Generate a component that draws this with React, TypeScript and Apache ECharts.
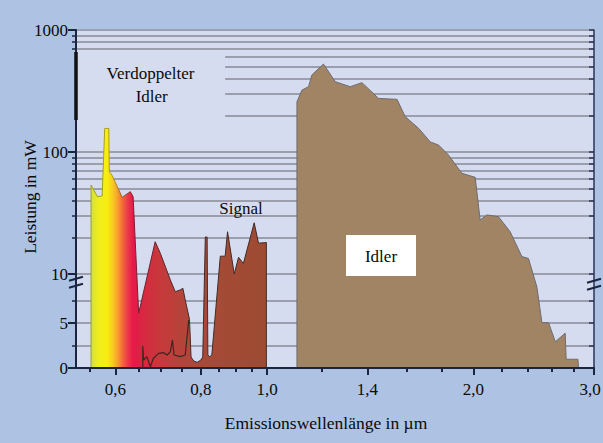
import React, { useEffect, useRef } from 'react';
import * as echarts from 'echarts';

// Wavelength in µm, power in mW
const signalLambda = [0.553, 0.553, 0.565, 0.574, 0.579, 0.587, 0.588, 0.593, 0.614, 0.631, 0.637, 0.649, 0.686, 0.698, 0.722, 0.734, 0.746, 0.753, 0.759, 0.770, 0.774, 0.781, 0.790, 0.800, 0.805, 0.812, 0.817, 0.819, 0.824, 0.830, 0.854, 0.868, 0.875, 0.895, 0.908, 0.923, 0.957, 0.971, 0.997, 0.997];
const signalPower = [0, 53.6, 43.0, 43.6, 156, 156, 69.0, 64.8, 42.5, 47.3, 43.0, 6.08, 18.4, 14.8, 9.54, 8.48, 8.67, 8.86, 7.56, 5.41, 1.22, 0.78, 0.63, 0.89, 1.22, 20.1, 20.1, 1.44, 1.26, 1.44, 14.0, 14.0, 22.2, 10.0, 13.7, 12.2, 26.3, 17.9, 18.1, 0];

const innerLambda = [0.658, 0.658, 0.660, 0.667, 0.675, 0.682, 0.694, 0.706, 0.714, 0.722, 0.727, 0.731, 0.746, 0.759, 0.768];
const innerPower = [0, 2.44, 0.89, 1.26, 0.14, 1.08, 1.63, 1.7, 1.44, 1.81, 3.11, 1.44, 1.26, 1.44, 5.33];

const idlerLambda = [1.105, 1.105, 1.124, 1.149, 1.162, 1.208, 1.257, 1.322, 1.375, 1.454, 1.547, 1.590, 1.664, 1.730, 1.779, 1.839, 1.924, 2.012, 2.046, 2.093, 2.176, 2.263, 2.354, 2.407, 2.476, 2.518, 2.575, 2.634, 2.723, 2.732, 2.842, 2.848];
const idlerPower = [0, 258, 322, 343, 428, 526, 377, 343, 370, 275, 270, 195, 156, 121, 114, 94.5, 66.9, 62, 27.7, 30.5, 29.5, 22.2, 13.9, 13.4, 9.0, 5.03, 5.03, 2.92, 3.86, 0.97, 0.97, 0];

const xMajorTicks = [0.6, 0.8, 1.0, 1.4, 2.0, 3.0];
const xMinorTicks = [0.55, 0.65, 0.7, 0.75, 0.85, 0.9, 0.95, 1.2, 1.6, 1.8, 2.2, 2.4, 2.6, 2.8];
const yMajorTicks = [0, 5, 10, 100, 1000];
const yMinorTicks = [2.5, 7.5, 20, 30, 40, 50, 60, 70, 80, 90, 700, 800, 900];
const gridFull = [2.5, 5, 7.5, 10, 20, 30, 40, 50, 60, 70, 80, 90, 100, 700, 800, 900, 1000];
const gridPartial = [200, 300, 400, 500, 600];
const partialStartLambda = 0.868;
const lambdaMin = 0.5257;
const lambdaMax = 3.0;
const doubledIdlerRange = [183, 660];
const breakPower = 9.4;

const FONT = '"Liberation Serif", "DejaVu Serif", serif';

// broken power axis: linear 0..9, bridge 9..10, log 10..1000
const ty = (v: number) => (v <= 9 ? 9 * v : v < 10 ? 81 + (v - 9) * 13 : 94 + 122 * Math.log10(v / 10));
const invTy = (t: number) => (t <= 81 ? t / 9 : t < 94 ? 9 + (t - 81) / 13 : 10 * Math.pow(10, (t - 94) / 122));
const lx = (l: number) => Math.log10(l);
const pts = (ls: number[], ps: number[]) => ls.map((l, i) => [lx(l), ty(ps[i])]);

const X_MIN = lx(lambdaMin);
const X_MAX = lx(lambdaMax);
const Y_MAX = ty(1000);

export default function App() {
  const ref = useRef<HTMLDivElement>(null);
  useEffect(() => {
    document.body.style.margin = '0';
    const chart = echarts.init(ref.current!, null, { renderer: 'svg' });
    const axisColor = '#1b2440';
    const fillGrad = new echarts.graphic.LinearGradient(0, 0, 1, 0, [
      { offset: 0, color: '#d2de40' },
      { offset: 0.04, color: '#eeee1e' },
      { offset: 0.09, color: '#f8ee10' },
      { offset: 0.12, color: '#f8d020' },
      { offset: 0.15, color: '#f7a22e' },
      { offset: 0.18, color: '#f2683a' },
      { offset: 0.21, color: '#ec3848' },
      { offset: 0.24, color: '#e6184b' },
      { offset: 0.3, color: '#d8283f' },
      { offset: 0.38, color: '#c9373c' },
      { offset: 0.52, color: '#b5443a' },
      { offset: 0.68, color: '#a64a36' },
      { offset: 1, color: '#9d4b33' },
    ]);
    const strokeGrad = new echarts.graphic.LinearGradient(0, 0, 1, 0, [
      { offset: 0, color: '#9aa020' },
      { offset: 0.12, color: '#b0a010' },
      { offset: 0.24, color: '#7a2030' },
      { offset: 0.5, color: '#4a2a28' },
      { offset: 1, color: '#3a2a24' },
    ]);
    const labelStyle = { fontFamily: FONT, fontSize: 17, color: '#0a0a0a' };
    chart.setOption({
      animation: false,
      backgroundColor: '#aec3e3',
      grid: {
        left: 76, right: 9, top: 30, bottom: 75,
        show: true, backgroundColor: '#d6dcef', borderWidth: 0,
        containLabel: false, outerBoundsMode: 'none',
      },
      xAxis: [
        {
          type: 'value', min: X_MIN, max: X_MAX, position: 'bottom', z: 10,
          axisLine: { show: true, onZero: false, lineStyle: { color: axisColor, width: 2 } },
          axisTick: { show: true, customValues: xMajorTicks.map(lx), length: 7, lineStyle: { color: axisColor, width: 2 } },
          axisLabel: {
            customValues: xMajorTicks.map(lx), margin: 13, ...labelStyle,
            formatter: (v: number) => {
              const s = Math.pow(10, v).toFixed(1).replace('.', ',');
              return v >= X_MAX - 1e-9 ? '{last|' + s + '}' : s;
            },
            rich: { last: { ...labelStyle, padding: [0, 8, 0, 0] } },
          },
          splitLine: { show: false },
        },
        {
          type: 'value', min: X_MIN, max: X_MAX, position: 'bottom', z: 10,
          axisLine: { show: false, onZero: false },
          axisTick: { show: true, customValues: xMinorTicks.map(lx), length: 4, lineStyle: { color: axisColor, width: 2 } },
          axisLabel: { show: false },
          splitLine: { show: false },
        },
      ],
      yAxis: [
        {
          type: 'value', min: 0, max: Y_MAX, position: 'left', z: 10,
          axisLine: { show: true, onZero: false, lineStyle: { color: axisColor, width: 2 } },
          axisTick: { show: true, customValues: yMajorTicks.map(ty), length: 8, lineStyle: { color: axisColor, width: 2 } },
          axisLabel: {
            customValues: yMajorTicks.map(ty), margin: 8, ...labelStyle,
            formatter: (t: number) => String(Math.round(invTy(t))),
          },
          splitLine: { show: false },
        },
        {
          type: 'value', min: 0, max: Y_MAX, position: 'left', z: 10,
          axisLine: { show: false, onZero: false },
          axisTick: { show: true, customValues: yMinorTicks.map(ty), length: 4, lineStyle: { color: axisColor, width: 1.5 } },
          axisLabel: { show: false },
          splitLine: { show: false },
        },
        {
          type: 'value', min: 0, max: Y_MAX, position: 'right', z: 10,
          axisLine: { show: true, onZero: false, lineStyle: { color: '#2b3456', width: 1.5 } },
          axisTick: { show: true, inside: true, customValues: [...gridFull, ...gridPartial].map(ty), length: 5, lineStyle: { color: '#2b3456', width: 1.5 } },
          axisLabel: { show: false },
          splitLine: { show: false },
        },
      ],
      series: [
        {
          type: 'lines', coordinateSystem: 'cartesian2d', xAxisIndex: 0, yAxisIndex: 0, z: 1, silent: true,
          lineStyle: { color: '#878a97', width: 1.6, opacity: 1 },
          data: [
            ...gridFull.map((v) => ({ coords: [[X_MIN, ty(v)], [X_MAX, ty(v)]] })),
            ...gridPartial.map((v) => ({ coords: [[lx(partialStartLambda), ty(v)], [X_MAX, ty(v)]] })),
          ],
        },
        {
          type: 'line', xAxisIndex: 0, yAxisIndex: 0, z: 3, silent: true, symbol: 'none',
          data: pts(idlerLambda, idlerPower),
          lineStyle: { color: '#6e6b70', width: 1 },
          areaStyle: { color: '#a08464', opacity: 1 },
        },
        {
          type: 'line', xAxisIndex: 0, yAxisIndex: 0, z: 3, silent: true, symbol: 'none',
          data: pts(signalLambda, signalPower),
          lineStyle: { color: strokeGrad, width: 1 },
          areaStyle: { color: fillGrad, opacity: 1 },
        },
        {
          type: 'line', xAxisIndex: 0, yAxisIndex: 0, z: 4, silent: true, symbol: 'none',
          data: pts(innerLambda, innerPower),
          lineStyle: { color: '#3b2820', width: 1.2 },
        },
        {
          type: 'lines', coordinateSystem: 'cartesian2d', xAxisIndex: 0, yAxisIndex: 0, z: 12, silent: true,
          lineStyle: { color: '#111', width: 3.5, opacity: 1 },
          data: [{ coords: [[X_MIN, ty(doubledIdlerRange[0])], [X_MIN, ty(doubledIdlerRange[1])]] }],
        },
      ],
    });

    const [lpx, bpy] = chart.convertToPixel({ gridIndex: 0 }, [X_MIN, ty(breakPower)]) as number[];
    const [rpx] = chart.convertToPixel({ gridIndex: 0 }, [X_MAX, ty(breakPower)]) as number[];
    const txt = (text: string, x: number, y: number, size = 17, extra: any = {}) => ({
      type: 'text', x, y, z: 50, ...extra,
      style: {
        text, fill: '#0a0a0a', fontFamily: FONT, fontSize: size,
        align: 'center', verticalAlign: 'middle', textAlign: 'center', textVerticalAlign: 'middle',
      },
    });
    const slash = (x: number, y: number) => [
      { type: 'line', z: 60, shape: { x1: x - 7, y1: y - 1, x2: x + 7, y2: y - 5 }, style: { stroke: axisColor, lineWidth: 2 } },
      { type: 'line', z: 60, shape: { x1: x - 7, y1: y + 6, x2: x + 7, y2: y + 2 }, style: { stroke: axisColor, lineWidth: 2 } },
    ];
    chart.setOption({
      graphic: [
        ...slash(lpx, bpy),
        ...slash(rpx, bpy + 2),
        txt('Verdoppelter', 150.5, 73),
        txt('Idler', 151.7, 96),
        txt('Signal', 241, 208),
        { type: 'rect', z: 49, shape: { x: 346, y: 235, width: 70, height: 41 }, style: { fill: '#ffffff' } },
        txt('Idler', 381, 256),
        txt('Leistung in mW', 30, 197, 17.5, { rotation: Math.PI / 2 }),
        txt('Emissionswellenlänge in µm', 326, 423, 17.5),
      ],
    });
    return () => chart.dispose();
  }, []);
  return <div ref={ref} style={{ width: 603, height: 443 }} />;
}
